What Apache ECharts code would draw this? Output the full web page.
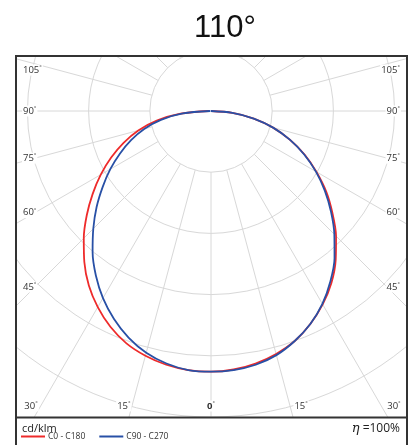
<!DOCTYPE html>
<html>
<head>
<meta charset="utf-8">
<script src="https://cdn.jsdelivr.net/npm/echarts@6/dist/echarts.min.js"></script>
<style>
  html, body { margin: 0; padding: 0; background: #fff; }
  #chart { width: 418px; height: 445px; }
</style>
</head>
<body>
<div id="chart"></div>
<script>
// gamma angle from nadir (deg), intensity in cd/klm
const gammaAngles = [0, 5, 10, 15, 20, 25, 30, 35, 40, 45, 50, 55, 60, 65, 70, 75, 80, 85, 90];
const c0   = [426, 424, 419, 411, 400, 384, 365, 343, 317, 289, 259, 230, 199, 169, 137, 105, 71, 35, 0];
const c180 = [426, 425, 421, 414, 404, 389, 370, 348, 322, 294, 265, 236, 208, 180, 152, 123, 90, 50, 3];
const c90  = [426, 425, 421, 413, 400, 384, 364, 340, 314, 285, 256, 227, 198, 168, 137, 105, 71, 35, 0];
const c270 = [426, 425, 419, 409, 394, 375, 353, 328, 301, 272, 244, 216, 190, 164, 139, 113, 83, 46, 1];

const seriesNames = ['C0 - C180', 'C90 - C270'];
const seriesColors = ['#ee2b2b', '#2850a6'];
const sideTicks = [105, 90, 75, 60, 45];
const bottomTicks = [-30, -15, 0, 15, 30];

const cx = 211, cy = 111;
const pxPer100 = 61.2;
const radiusMax = 600;
const gridColor = '#d8d8d8';

// left half goes to 360-gamma, right half to gamma (0 = straight down)
function buildCurve(left, right) {
    const pts = [];
    for (let i = gammaAngles.length - 1; i >= 0; i--) {
        pts.push([left[i], 360 - gammaAngles[i]]);
    }
    for (let i = 1; i < gammaAngles.length; i++) {
        pts.push([right[i], gammaAngles[i]]);
    }
    return pts;
}

const rad = d => d * Math.PI / 180;

function degLabel(v, bold) {
    return {
        type: 'text',
        z: 30,
        style: {
            text: '{n|' + v + '}{d|°}',
            rich: {
                n: { fontSize: 9.5, fontWeight: bold ? 'bold' : 'normal', fill: '#333', fontFamily: 'Open Sans' },
                d: { fontSize: 6, fill: '#333', padding: [0, 0, 5, 0], fontFamily: 'Open Sans' }
            },
            backgroundColor: '#fff',
            padding: [0, 1]
        }
    };
}

const labels = [];
sideTicks.forEach(t => {
    const y = Math.max(70, cy + 176 / Math.tan(rad(t)));
    const l = degLabel(t);
    l.x = 22; l.y = y; l.style.align = 'left'; l.style.verticalAlign = 'middle';
    labels.push(l);
    const r = degLabel(t);
    r.x = 401; r.y = y; r.style.align = 'right'; r.style.verticalAlign = 'middle';
    labels.push(r);
});
bottomTicks.forEach(t => {
    const lineX = cx + 300 * Math.tan(rad(Math.abs(t))) * Math.sign(t);
    const l = degLabel(Math.abs(t), t === 0);
    l.y = 406;
    l.style.verticalAlign = 'middle';
    if (t < 0) { l.x = lineX + 1; l.style.align = 'right'; }
    else if (t > 0) { l.x = lineX + 2; l.style.align = 'left'; }
    else { l.x = cx; l.style.align = 'center'; }
    labels.push(l);
});

const masks = [
    { x: 0, y: 0, width: 418, height: 56 },
    { x: 0, y: 0, width: 16, height: 445 },
    { x: 407, y: 0, width: 11, height: 445 },
    { x: 0, y: 417, width: 418, height: 28 }
].map(s => ({ type: 'rect', z: 10, shape: s, style: { fill: '#fff' } }));

const chart = echarts.init(document.getElementById('chart'));

const option = {
    animation: false,
    backgroundColor: '#fff',
    title: {
        text: '110°',
        left: 189,
        top: 8,
        z: 20,
        textStyle: { fontSize: 31, fontWeight: 'normal', color: '#111', fontFamily: 'Liberation Sans' }
    },
    legend: {
        data: seriesNames,
        left: 21,
        top: 432,
        padding: 0,
        z: 20,
        icon: 'rect',
        itemWidth: 24,
        itemHeight: 2,
        itemGap: 14,
        textStyle: { fontSize: 8.5, color: '#333', fontFamily: 'Open Sans', padding: [0, 0, 0, -2] }
    },
    polar: [
        { center: [cx, cy], radius: [0, pxPer100 * radiusMax / 100] },
        { center: [cx, cy], radius: [pxPer100, 420] }
    ],
    angleAxis: [
        { polarIndex: 0, type: 'value', min: 0, max: 360, startAngle: -90, clockwise: false, show: false },
        {
            polarIndex: 1, type: 'value', min: 0, max: 360, interval: 15, startAngle: -90, clockwise: false,
            axisLine: { show: false }, axisTick: { show: false }, axisLabel: { show: false },
            splitLine: { show: true, lineStyle: { color: gridColor, width: 1 } }
        }
    ],
    radiusAxis: [
        {
            polarIndex: 0, type: 'value', min: 0, max: radiusMax, interval: 100,
            axisLine: { show: false }, axisTick: { show: false }, axisLabel: { show: false },
            splitLine: { show: true, lineStyle: { color: gridColor, width: 1 } }
        },
        {
            polarIndex: 1, type: 'value', min: 0, max: 100,
            axisLine: { show: false }, axisTick: { show: false }, axisLabel: { show: false },
            splitLine: { show: false }
        }
    ],
    series: [
        {
            name: seriesNames[0], type: 'line', coordinateSystem: 'polar', polarIndex: 0,
            data: buildCurve(c180, c0), showSymbol: false, smooth: 0.3,
            lineStyle: { color: seriesColors[0], width: 1.8 }, itemStyle: { color: seriesColors[0] }
        },
        {
            name: seriesNames[1], type: 'line', coordinateSystem: 'polar', polarIndex: 0,
            data: buildCurve(c270, c90), showSymbol: false, smooth: 0.3,
            lineStyle: { color: seriesColors[1], width: 1.8 }, itemStyle: { color: seriesColors[1] }
        }
    ],
    graphic: masks.concat([
        {
            type: 'rect', z: 25,
            shape: { x: 16, y: 56, width: 391, height: 420 },
            style: { fill: null, stroke: '#333', lineWidth: 2 }
        },
        {
            type: 'line', z: 25,
            shape: { x1: 16, y1: 417.5, x2: 407, y2: 417.5 },
            style: { stroke: '#333', lineWidth: 2 }
        },
        {
            type: 'text', z: 30, x: 22, y: 428.5,
            style: { text: 'cd/klm', fontSize: 11, fill: '#222', fontFamily: 'Open Sans', verticalAlign: 'middle' }
        },
        {
            type: 'text', z: 30, x: 400, y: 428.5,
            style: {
                text: '{e|η} =100%',
                rich: {
                    e: { fontSize: 13, fontStyle: 'italic', fontFamily: 'DejaVu Serif', fill: '#222' }
                },
                fontSize: 12, fill: '#222', fontFamily: 'Open Sans',
                align: 'right', verticalAlign: 'middle'
            }
        }
    ]).concat(labels)
};

chart.setOption(option);
</script>
</body>
</html>
